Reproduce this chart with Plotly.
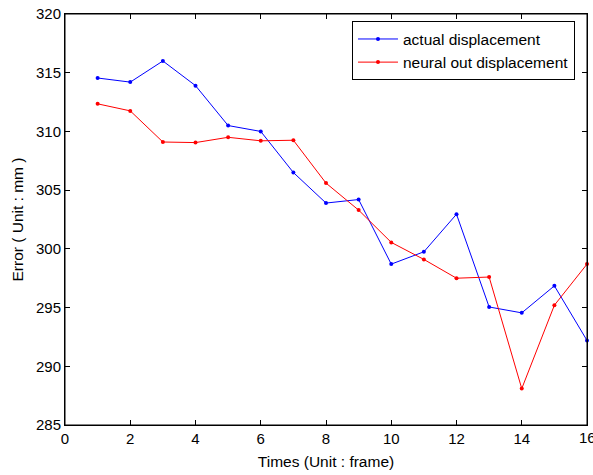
import plotly.graph_objects as go

frames = list(range(1, 17))
actual = [314.55, 314.2, 316.0, 313.9, 310.5, 310.0, 306.5, 303.9, 304.2, 298.7, 299.75, 302.95, 295.05, 294.55, 296.85, 292.2]
neural = [312.35, 311.75, 309.1, 309.05, 309.5, 309.2, 309.25, 305.6, 303.3, 300.55, 299.1, 297.5, 297.6, 288.1, 295.2, 298.7]
x_ticks = [0, 2, 4, 6, 8, 10, 12, 14, 16]
y_ticks = [285, 290, 295, 300, 305, 310, 315, 320]

FONT = "Liberation Sans, Arial, sans-serif"

fig = go.Figure()
fig.add_trace(go.Scatter(x=frames, y=actual, mode="lines+markers", name="actual displacement",
                         line=dict(color="#0000ff", width=1), marker=dict(size=4, color="#0000ff"),
                         cliponaxis=False))
fig.add_trace(go.Scatter(x=frames, y=neural, mode="lines+markers", name="neural out displacement",
                         line=dict(color="#ff0000", width=1), marker=dict(size=4, color="#ff0000"),
                         cliponaxis=False))

axis_common = dict(showgrid=False, zeroline=False, showline=True, linecolor="black", linewidth=1,
                   mirror="allticks", ticks="inside", ticklen=5, tickcolor="black",
                   tickfont=dict(family=FONT, size=15, color="black"))

fig.update_xaxes(range=[0, 16], tickvals=x_ticks, title=dict(text="Times (Unit : frame)", standoff=10,
                 font=dict(family=FONT, size=15.5, color="black")), **axis_common)
fig.update_yaxes(range=[285, 320], tickvals=y_ticks, title=dict(text="Error ( Unit : mm )", standoff=8,
                 font=dict(family=FONT, size=15.5, color="black")), **axis_common)

# plot-area frame (MATLAB style box)
fig.add_shape(type="rect", xref="paper", yref="paper", x0=0, x1=1, y0=0, y1=1,
              line=dict(color="black", width=1), layer="above")

# last x tick label, partially cut at the figure edge as in the original
fig.add_annotation(x=x_ticks[-1], xref="x", y=0, yref="paper", text=str(x_ticks[-1]),
                   showarrow=False, yanchor="top", yshift=-2,
                   font=dict(family=FONT, size=15, color="black"))

fig.update_layout(
    width=593, height=475,
    margin=dict(l=65, r=6, t=14, b=50, autoexpand=False),
    plot_bgcolor="white", paper_bgcolor="white",
    font=dict(family=FONT, size=15, color="black"),
    legend=dict(x=0.977, y=0.982, xanchor="right", yanchor="top", bordercolor="black", borderwidth=1,
                bgcolor="white", font=dict(size=15.5), tracegroupgap=0, itemwidth=40),
)

fig.write_html("out.html", config={"displayModeBar": False},
               post_script="document.body.style.margin='0';")
